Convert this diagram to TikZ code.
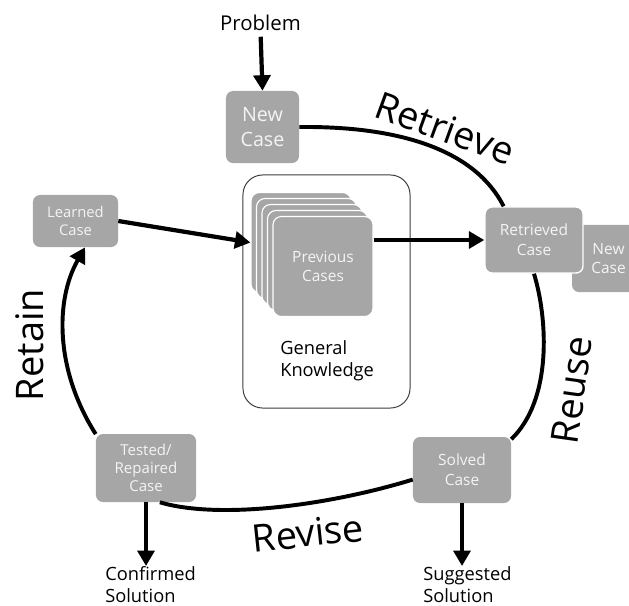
\documentclass[tikz,border=0pt]{standalone}
\usepackage{fontspec}
\setmainfont{Open Sans}
\usetikzlibrary{arrows.meta}
\definecolor{casegray}{HTML}{A6A6A6}
\definecolor{casetext}{HTML}{F4F4F4}
\definecolor{gkframe}{HTML}{3C3C3C}

\begin{document}
\begin{tikzpicture}[x=0.025cm,y=-0.025cm,>={Triangle[width=12pt,length=11pt]},
every node/.style={font=\fontsize{13}{15.6}\selectfont},
case/.style={fill=casegray,text=casetext,rounded corners=5pt,align=center,inner sep=1pt,font=\fontsize{11}{14}\selectfont},
card/.style={case,draw=white,line width=.8pt,minimum width=2.5cm,minimum height=2.5cm,rounded corners=6pt},
phase/.style={font=\fontsize{27}{30}\selectfont},
phaseline/.style={line width=2.8pt},
outarrow/.style={->,line width=3pt}]
\useasboundingbox (0,0) rectangle (629,605);
% knowledge base in the middle
\node[draw=gkframe,line width=.7pt,rounded corners=14pt,minimum width=4.175cm,minimum height=5.825cm] (gk) at (326.5,291.5) {};
\foreach \k in {4,...,1} \node[card] (card\k) at ({323-5.5*\k},{266.5-6*\k}) {};
\node[card] (prev) at (323,266.5) {Previous\\Cases};
\node[anchor=north west,inner sep=0,align=left] (gklabel) at (280,340) {General\\Knowledge};
% the four cases round the cycle
\node[case,minimum width=1.825cm,minimum height=1.8cm,font=\fontsize{14}{17.5}\selectfont] (newcase) at (262.5,127) {New\\Case};
\node[case,minimum width=1.825cm,minimum height=1.675cm] (newcase2) at (608.5,258.5) {New\\Case};
\node[case,draw=white,line width=1pt,minimum width=2.45cm,minimum height=1.65cm] (retrieved) at (534,240) {Retrieved\\Case};
\node[case,minimum width=2.45cm,minimum height=1.65cm] (solved) at (462,470) {Solved\\Case};
\node[case,minimum width=2.5cm,minimum height=1.7cm,font=\fontsize{10.7}{13}\selectfont] (tested) at (146,468) {Tested/\\Repaired\\Case};
\node[case,minimum width=2.125cm,minimum height=1.3cm,font=\fontsize{10.5}{13}\selectfont] (learned) at (75.5,221) {Learned\\Case};
% inputs and outputs
\node[font=\fontsize{14.5}{17}\selectfont,inner sep=0] (problem) at (260.5,23) {Problem};
\node[anchor=north west,inner sep=0,align=left] (confirmed) at (105,566) {Confirmed\\Solution};
\node[anchor=north west,inner sep=0,align=left] (suggested) at (423,566) {Suggested\\Solution};
\draw[outarrow,shorten <=4pt] (problem.south)--(newcase.north);
\draw[outarrow] (tested.south)--(tested.south |- confirmed.north);
\draw[outarrow] (solved.south)--(solved.south |- suggested.north);
\draw[outarrow] (learned.east)--(card4.west);
\draw[outarrow] (prev.east |- retrieved.west)--(retrieved.west);
% the cycle
\draw[phaseline] (newcase.east) .. controls (400,126) and (475,150) .. (retrieved.132);
\draw[phaseline] (retrieved.south) .. controls (548,320) and (552,400) .. (solved.32);
\draw[phaseline] (solved.191) .. controls (330,505) and (220,520) .. (tested.292);
\draw[phaseline,->] (tested.146) .. controls (55,370) and (55,300) .. (learned.290);
\node[phase,rotate=-20] (retrieve) at (445,128) {Retrieve};
\node[phase,rotate=82] (reuse) at (572,390) {Reuse};
\node[phase,rotate=6] (revise) at (308,533) {Revise};
\node[phase,rotate=90] (retain) at (30,345) {Retain};
\end{tikzpicture}
\end{document}
